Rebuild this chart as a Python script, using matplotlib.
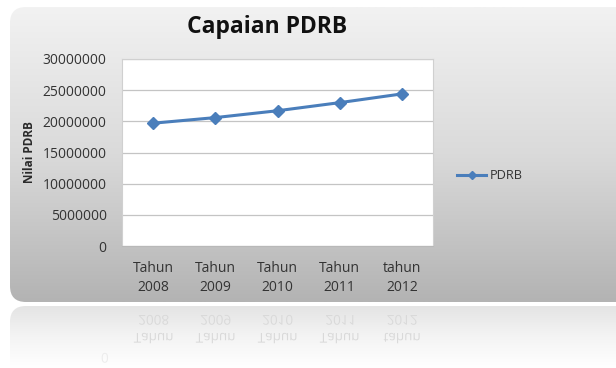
import numpy as np
import matplotlib
matplotlib.use("Agg")
import matplotlib.pyplot as plt
from matplotlib.patches import FancyBboxPatch, PathPatch
from matplotlib.textpath import TextPath
from matplotlib.font_manager import FontProperties
from matplotlib.transforms import Affine2D

categories = ["Tahun\n2008", "Tahun\n2009", "Tahun\n2010", "Tahun\n2011", "tahun\n2012"]
pdrb = [19700000, 20600000, 21700000, 23000000, 24400000]
yticks = [0, 5000000, 10000000, 15000000, 20000000, 25000000, 30000000]

W, H = 616, 368
BLUE = "#4a7ebb"
INK = "#333333"
FONT = "Open Sans"

fig = plt.figure(figsize=(W / 100, H / 100), dpi=100)
fig.patch.set_facecolor("white")

# background layer in pixel coords
bg = fig.add_axes([0, 0, 1, 1])
bg.set_xlim(0, W); bg.set_ylim(H, 0); bg.axis("off")

# main panel with vertical gradient
panel = FancyBboxPatch((10, 7), 640, 295, boxstyle="round,pad=0,rounding_size=16",
                       fc="none", ec="none")
bg.add_patch(panel)
grad = np.linspace(0, 1, 256)[:, None]
cmap_panel = matplotlib.colors.LinearSegmentedColormap.from_list("p", ["#f2f2f2", "#dadada", "#b3b3b3"])
im = bg.imshow(grad, extent=(0, W, 302, 7), cmap=cmap_panel, aspect="auto", zorder=0)
im.set_clip_path(panel)

# reflection panel
refl = FancyBboxPatch((10, 306), 640, 120, boxstyle="round,pad=0,rounding_size=16",
                      fc="none", ec="none")
bg.add_patch(refl)
cmap_refl = matplotlib.colors.LinearSegmentedColormap.from_list("r", ["#e4e4e4", "#f4f4f4", "#ffffff"])
im2 = bg.imshow(grad, extent=(0, W, 368, 306), cmap=cmap_refl, aspect="auto", zorder=0)
im2.set_clip_path(refl)

# mirrored tick labels in the reflection (y grows downward here, so glyphs flip)
prop = FontProperties(family=FONT, size=10)
xcent = [153, 215, 277, 339, 401.5]
for xc, lab in zip(xcent, categories):
    top, bot = lab.split("\n")
    for txt, ybase in ((bot, 315), (top, 333)):
        tp = TextPath((0, 0), txt, prop=prop, size=13.5)
        ext = tp.get_extents()
        tr = Affine2D().translate(-ext.width / 2, 0).translate(xc, ybase)
        bg.add_patch(PathPatch(tr.transform_path(tp), fc="#d9d9d9", ec="none", zorder=1))
tp0 = TextPath((0, 0), "0", prop=prop, size=13.5)
bg.add_patch(PathPatch(Affine2D().translate(101, 353).transform_path(tp0),
                       fc="#ececec", ec="none", zorder=1))

# plot area
x0, x1, y0, y1 = 122, 433, 59, 246
ax = fig.add_axes([x0 / W, 1 - y1 / H, (x1 - x0) / W, (y1 - y0) / H])
ax.set_facecolor("white")
xs = np.arange(len(categories))
ax.plot(xs, pdrb, color=BLUE, lw=2.2, marker="D", ms=6.5, mfc=BLUE, mec=BLUE, label="PDRB")
ax.set_xlim(-0.5, len(categories) - 0.5)
ax.set_ylim(0, 30000000)
ax.set_yticks(yticks)
ax.set_yticklabels([str(v) for v in yticks], fontsize=10, color=INK, family=FONT)
ax.set_xticks(xs)
ax.set_xticklabels(categories, fontsize=10, color=INK, family=FONT, linespacing=1.3)
ax.tick_params(length=0)
ax.tick_params(axis="y", pad=11)
ax.tick_params(axis="x", pad=11)
ax.grid(axis="y", color="#c4c4c4", lw=0.9)
ax.set_axisbelow(True)
for s in ax.spines.values():
    s.set_color("#d0d0d0"); s.set_linewidth(0.8)
ax.spines["bottom"].set_color("#b8b8b8")
ax.set_ylabel("Nilai PDRB", fontsize=8.5, fontweight="bold", color="#2a2a2a", family=FONT)
ax.yaxis.set_label_coords(-0.275, 0.5)

fig.text(267 / W, 1 - 27 / H, "Capaian PDRB", ha="center", va="center",
         fontsize=16.5, fontweight="bold", color="#111111", family=FONT)

leg = ax.legend(loc="center left", bbox_to_anchor=(1.04, 0.375), frameon=False,
                prop=FontProperties(family=FONT, size=9.2), handlelength=2.3,
                handletextpad=0.3, markerscale=0.6)
for t in leg.get_texts():
    t.set_color(INK)

fig.savefig("out.png", dpi=100)
